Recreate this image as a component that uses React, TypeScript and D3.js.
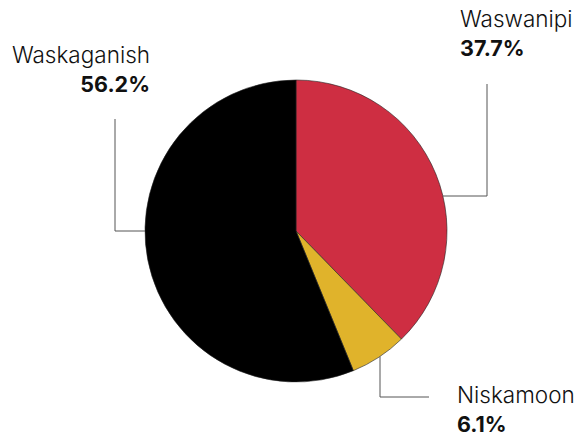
import React from "react";
import * as d3 from "d3";

const categories = ["Waswanipi", "Niskamoon", "Waskaganish"];
const values = [37.7, 6.1, 56.2];
const colors = ["#CE2E42", "#E0B32B", "#000000"];

const W = 579;
const H = 440;
const cx = 296;
const cy = 231;
const R = 151;

export default function App() {
  const pie = d3.pie<number>().sort(null).value((d) => d)(values);
  const arc = d3.arc<d3.PieArcDatum<number>>().innerRadius(0).outerRadius(R);

  const waswY = cy - 35;
  const waswX0 = cx + Math.sqrt(R * R - 35 * 35);
  const niskX = cx + 84;
  const niskY0 = cy + Math.sqrt(R * R - 84 * 84);
  const lineColor = "#555";
  const font = "Inter, Roboto, 'Liberation Sans', Arial, sans-serif";
  const fsName = 22.5;
  const fsPct = 21.5;

  return (
    <svg
      width={W}
      height={H}
      style={{ position: "absolute", left: 0, top: 0, background: "#fff" }}
      fontFamily={font}
    >
      <g transform={`translate(${cx},${cy})`}>
        {pie.map((p, i) => (
          <path
            key={categories[i]}
            d={arc(p) || ""}
            fill={colors[i]}
            stroke="#222"
            strokeWidth={0.6}
          />
        ))}
      </g>

      {/* Waskaganish */}
      <polyline
        points={`${cx - R},${cy} 115,${cy} 115,119`}
        fill="none"
        stroke={lineColor}
        strokeWidth={1}
      />
      <text x={150} y={63} textAnchor="end" fontSize={fsName} fontWeight={300} fill="#111">
        {categories[2]}
      </text>
      <text x={150} y={92} textAnchor="end" fontSize={fsPct} fontWeight={700} fill="#111">
        {values[2].toFixed(1)}%
      </text>

      {/* Waswanipi */}
      <polyline
        points={`${waswX0},${waswY} 487,${waswY} 487,84`}
        fill="none"
        stroke={lineColor}
        strokeWidth={1}
      />
      <text x={460} y={27} textAnchor="start" fontSize={fsName} fontWeight={300} fill="#111">
        {categories[0]}
      </text>
      <text x={460} y={56} textAnchor="start" fontSize={fsPct} fontWeight={700} fill="#111">
        {values[0].toFixed(1)}%
      </text>

      {/* Niskamoon */}
      <polyline
        points={`${niskX},${niskY0} ${niskX},397 429,397`}
        fill="none"
        stroke={lineColor}
        strokeWidth={1}
      />
      <text x={457} y={403} textAnchor="start" fontSize={fsName} fontWeight={300} fill="#111">
        {categories[1]}
      </text>
      <text x={457} y={432} textAnchor="start" fontSize={fsPct} fontWeight={700} fill="#111">
        {values[1].toFixed(1)}%
      </text>
    </svg>
  );
}
